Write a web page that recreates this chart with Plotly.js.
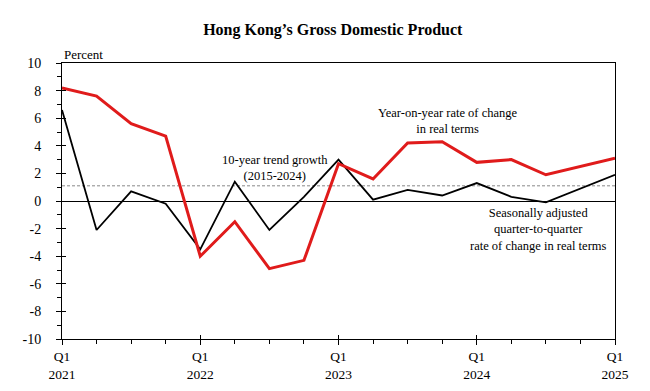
<!DOCTYPE html>
<html>
<head>
<meta charset="utf-8">
<script src="https://cdn.plot.ly/plotly-3.0.1.min.js"></script>
<style>body{margin:0;padding:0;background:#fff}#chart{width:650px;height:391px}</style>
</head>
<body>
<div id="chart"></div>
<script>
const quarters = ["Q1 2021","Q2 2021","Q3 2021","Q4 2021","Q1 2022","Q2 2022","Q3 2022","Q4 2022","Q1 2023","Q2 2023","Q3 2023","Q4 2023","Q1 2024","Q2 2024","Q3 2024","Q4 2024","Q1 2025"];
const yoy = [8.2, 7.6, 5.6, 4.7, -4.0, -1.5, -4.9, -4.3, 2.7, 1.6, 4.2, 4.3, 2.8, 3.0, 1.9, 2.5, 3.1];
const qoq = [6.6, -2.1, 0.7, -0.2, -3.5, 1.4, -2.1, 0.3, 3.0, 0.1, 0.8, 0.4, 1.3, 0.3, -0.1, 0.9, 1.9];
const trendGrowth = 1.1;
const xTickVals = [0, 4, 8, 12, 16];
const xTickText = ["Q1<br>2021", "Q1<br>2022", "Q1<br>2023", "Q1<br>2024", "Q1<br>2025"];
const yTickVals = [-10, -8, -6, -4, -2, 0, 2, 4, 6, 8, 10];
const yTickText = ["-10", "-8", "-6", "-4", "-2", "0", "2", "4", "6", "8", "10"];

const idx = quarters.map((q, i) => i);
const font = {family: "Liberation Serif, Times New Roman, serif", size: 13, color: "#000"};
const annFont = {family: "Liberation Serif, Times New Roman, serif", size: 12.5, color: "#000"};

const traces = [
  {x: [0, 16], y: [trendGrowth, trendGrowth], mode: "lines", line: {color: "#888", width: 1, dash: "3px,2px"}, hoverinfo: "skip"},
  {x: idx, y: qoq, mode: "lines", line: {color: "#000", width: 1.8}, name: "QoQ"},
  {x: idx, y: yoy, mode: "lines", line: {color: "#e01b1b", width: 3}, name: "YoY"},
  {x: [0, 16], y: [0, 0], xaxis: "x2", yaxis: "y2", mode: "lines", line: {color: "rgba(0,0,0,0)", width: 0}, hoverinfo: "skip"}
];

const layout = {
  width: 650, height: 391,
  margin: {l: 62, r: 35, t: 63, b: 52},
  paper_bgcolor: "#fff", plot_bgcolor: "#fff",
  showlegend: false,
  font: font,
  title: {text: "<b>Hong Kong’s Gross Domestic Product</b>", font: {family: font.family, size: 16, color: "#000"}, x: 0.512, xanchor: "center", y: 0.925, yanchor: "middle"},
  xaxis: {
    range: [0, 16], showgrid: false, zeroline: false,
    showline: true, linecolor: "#000", linewidth: 1, mirror: true,
    tickmode: "array", tickvals: xTickVals, ticktext: xTickText,
    ticks: "outside", ticklen: 5, tickcolor: "#000", tickwidth: 1,
    minor: {dtick: 1, tick0: 0, ticks: "outside", ticklen: 4, tickcolor: "#000", tickwidth: 1, showgrid: false},
    tickfont: {family: font.family, size: 13.5, color: "#000"}
  },
  yaxis: {
    range: [-10, 10], showgrid: false,
    zeroline: true, zerolinecolor: "#000", zerolinewidth: 1,
    showline: true, linecolor: "#000", linewidth: 1, mirror: true,
    tickmode: "array", tickvals: yTickVals, ticktext: yTickText,
    ticks: "outside", ticklen: 5, tickcolor: "#000", tickwidth: 1,
    ticklabelstandoff: 12,
    minor: {dtick: 1, tick0: 0, ticks: "outside", ticklen: 4, tickcolor: "#000", tickwidth: 1, showgrid: false},
    tickfont: {family: font.family, size: 14, color: "#000"}
  },
  xaxis2: {overlaying: "x", range: [0, 16], showgrid: false, zeroline: false, showline: false,
    tickmode: "array", tickvals: xTickVals, showticklabels: false, ticks: "inside", ticklen: 4, tickcolor: "#000"},
  yaxis2: {overlaying: "y", range: [-10, 10], showgrid: false, zeroline: false, showline: false,
    tickmode: "array", tickvals: yTickVals, showticklabels: false, ticks: "inside", ticklen: 4, tickcolor: "#000"},
  annotations: [
    {text: "Percent", xref: "paper", yref: "paper", x: 0, y: 1, xanchor: "left", yanchor: "bottom", showarrow: false, font: font, yshift: -1},
    {text: "10-year trend growth<br>(2015-2024)", xref: "x", yref: "y", x: 6.15, y: 2.4, xanchor: "center", yanchor: "middle", showarrow: false, font: annFont, align: "center"},
    {text: "Year-on-year rate of change<br>in real terms", xref: "x", yref: "y", x: 11.16, y: 5.8, xanchor: "center", yanchor: "middle", showarrow: false, font: annFont, align: "center"},
    {text: "Seasonally adjusted<br>quarter-to-quarter<br>rate of change in real terms", xref: "x", yref: "y", x: 13.8, y: -2.1, xanchor: "center", yanchor: "middle", showarrow: false, font: annFont, align: "center"}
  ]
};

Plotly.newPlot("chart", traces, layout, {displayModeBar: false, staticPlot: true});
</script>
</body>
</html>
